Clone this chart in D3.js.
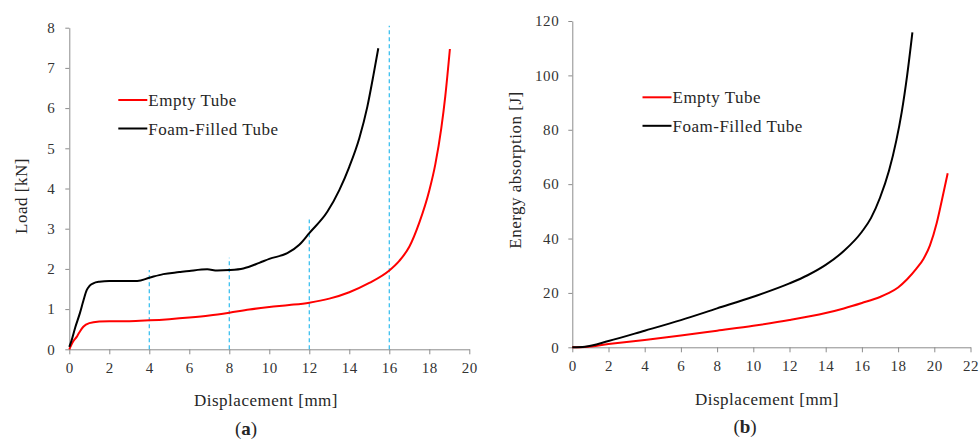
<!DOCTYPE html>
<html>
<head>
<meta charset="utf-8">
<script src="https://cdn.jsdelivr.net/npm/d3@7"></script>
<style>
  body { margin: 0; background: #fff; }
  svg text { font-family: "Liberation Serif", "Times New Roman", serif; fill: #262626; }
  .axis path, .axis line { stroke: #8c8c8c; stroke-width: 1; }
  .axis text { font-size: 15px; letter-spacing: 0.6px; fill: #333; }
  .title { font-size: 17px; letter-spacing: 0.5px; }
  .legend { font-size: 17px; letter-spacing: 0.5px; }
  .panel { font-size: 19px; }
</style>
</head>
<body>
<div id="chart"></div>
<script>
// (a) load vs displacement
var emptyLoadX = [0, 0.2, 0.37, 0.5, 0.7, 1.0, 1.5, 2, 3, 4, 5, 6, 7, 8, 9, 10, 11, 12, 13, 14, 15, 16, 16.5, 17, 17.5, 18, 18.3, 18.6, 18.8, 19.03];
var emptyLoadY = [0, 0.2, 0.31, 0.42, 0.56, 0.65, 0.69, 0.70, 0.70, 0.72, 0.75, 0.79, 0.84, 0.91, 0.99, 1.05, 1.10, 1.16, 1.26, 1.42, 1.65, 1.96, 2.2, 2.55, 3.15, 3.95, 4.6, 5.5, 6.3, 7.47];
var foamLoadX = [0, 0.1, 0.3, 0.53, 0.7, 0.87, 1.0, 1.2, 1.5, 2, 3, 3.4, 4, 4.7, 5.5, 6, 6.9, 7.4, 8, 8.7, 9.5, 10.0, 10.9, 11.5, 12, 12.9, 13.5, 14, 14.5, 14.9, 15.2, 15.45];
var foamLoadY = [0.06, 0.2, 0.55, 0.9, 1.2, 1.47, 1.57, 1.64, 1.68, 1.70, 1.70, 1.70, 1.78, 1.87, 1.92, 1.95, 1.99, 1.96, 1.97, 2.01, 2.15, 2.25, 2.39, 2.6, 2.89, 3.42, 3.96, 4.54, 5.25, 6.03, 6.8, 7.49];
var markerX = [4, 8, 12, 16];
var markerTop = [1.97, 2.28, 3.23, 8.05];
var loadTicksX = [0, 2, 4, 6, 8, 10, 12, 14, 16, 18, 20];
var loadTicksY = [0, 1, 2, 3, 4, 5, 6, 7, 8];

// (b) energy absorption vs displacement
var emptyEnergyX = [0, 0.7, 2, 4, 6, 8, 10, 12, 14, 15, 16, 17, 17.5, 18, 18.5, 19, 19.4, 19.76, 20.13, 20.4, 20.74];
var emptyEnergyY = [0, 0.1, 1.2, 2.7, 4.3, 6.1, 7.9, 10.0, 12.6, 14.3, 16.3, 18.5, 20.0, 22.0, 25.0, 28.8, 32.5, 37.5, 45.6, 53.5, 64];
var foamEnergyX = [0, 0.7, 2, 4, 6, 8, 10, 12, 13, 14, 15, 16, 16.5, 17, 17.5, 17.9, 18.2, 18.5, 18.79];
var foamEnergyY = [0, 0.2, 2.3, 6.1, 10, 14.3, 18.6, 23.5, 26.5, 30.3, 35.4, 42.5, 47.5, 55, 65, 76, 86.5, 100, 115.8];
var energyTicksX = [0, 2, 4, 6, 8, 10, 12, 14, 16, 18, 20, 22];
var energyTicksY = [0, 20, 40, 60, 80, 100, 120];

var seriesNames = ["Empty Tube", "Foam-Filled Tube"];
var seriesColors = ["#ff0000", "#000000"];

var svg = d3.select("#chart").append("svg")
  .attr("width", 979)
  .attr("height", 441);

function zip(xs, ys) {
  return xs.map(function(x, i) { return [x, ys[i]]; });
}

function drawPanel(opt) {
  var x = d3.scaleLinear().domain(opt.xDomain).range(opt.xRange);
  var y = d3.scaleLinear().domain(opt.yDomain).range(opt.yRange);

  svg.append("g")
    .attr("class", "axis")
    .attr("transform", "translate(0," + opt.yRange[0] + ")")
    .call(d3.axisBottom(x).tickValues(opt.xTicks).tickSize(5).tickSizeOuter(0).tickPadding(8))
    .call(function(g) { g.selectAll("text").attr("dy", "0.71em"); });

  svg.append("g")
    .attr("class", "axis")
    .attr("transform", "translate(" + opt.xRange[0] + ",0)")
    .call(d3.axisLeft(y).tickValues(opt.yTicks).tickSize(4).tickSizeOuter(0).tickPadding(opt.yPad));

  if (opt.markers) {
    svg.append("g").selectAll("line")
      .data(opt.markers)
      .enter().append("line")
      .attr("x1", function(d) { return x(d[0]); })
      .attr("x2", function(d) { return x(d[0]); })
      .attr("y1", y(0))
      .attr("y2", function(d) { return y(d[1]); })
      .attr("stroke", "#3cc0f0")
      .attr("stroke-width", 1.3)
      .attr("stroke-dasharray", "4,3");
  }

  var line = d3.line()
    .x(function(d) { return x(d[0]); })
    .y(function(d) { return y(d[1]); })
    .curve(d3.curveMonotoneX);

  opt.series.forEach(function(s, i) {
    svg.append("path")
      .datum(s)
      .attr("fill", "none")
      .attr("stroke", seriesColors[i])
      .attr("stroke-width", 2)
      .attr("d", line);
  });

  // legend
  seriesNames.forEach(function(name, i) {
    var ly = opt.legend[1] + i * 28.5;
    svg.append("line")
      .attr("x1", opt.legend[0]).attr("x2", opt.legend[0] + 29)
      .attr("y1", ly).attr("y2", ly)
      .attr("stroke", seriesColors[i])
      .attr("stroke-width", 2);
    svg.append("text")
      .attr("class", "legend")
      .attr("x", opt.legend[0] + 30)
      .attr("y", ly + 6)
      .text(name);
  });

  svg.append("text")
    .attr("class", "title")
    .attr("text-anchor", "middle")
    .attr("x", opt.xTitle[0])
    .attr("y", opt.xTitle[1])
    .text("Displacement [mm]");

  svg.append("text")
    .attr("class", "title")
    .attr("text-anchor", "middle")
    .attr("transform", "translate(" + opt.yTitle[0] + "," + opt.yTitle[1] + ") rotate(-90)")
    .text(opt.yLabel);

  var p = svg.append("text")
    .attr("class", "panel")
    .attr("text-anchor", "middle")
    .attr("x", opt.panel[0])
    .attr("y", opt.panel[1]);
  p.append("tspan").text("(");
  p.append("tspan").attr("font-weight", "bold").text(opt.panelLetter);
  p.append("tspan").text(")");
}

drawPanel({
  xDomain: [0, 20], xRange: [69.3, 469.3],
  yDomain: [0, 8], yRange: [349.3, 27.7],
  xTicks: loadTicksX, yTicks: loadTicksY, yPad: 10,
  series: [zip(emptyLoadX, emptyLoadY), zip(foamLoadX, foamLoadY)],
  markers: zip(markerX, markerTop),
  legend: [118.3, 100],
  xTitle: [266, 406],
  yTitle: [27, 196],
  yLabel: "Load [kN]",
  panel: [246, 435], panelLetter: "a"
});

drawPanel({
  xDomain: [0, 22], xRange: [572.3, 970.5],
  yDomain: [0, 120], yRange: [347.3, 21],
  xTicks: energyTicksX, yTicks: energyTicksY, yPad: 9,
  series: [zip(emptyEnergyX, emptyEnergyY), zip(foamEnergyX, foamEnergyY)],
  markers: null,
  legend: [642.5, 97.3],
  xTitle: [767, 405],
  yTitle: [521, 170],
  yLabel: "Energy absorption [J]",
  panel: [745, 433], panelLetter: "b"
});
</script>
</body>
</html>
